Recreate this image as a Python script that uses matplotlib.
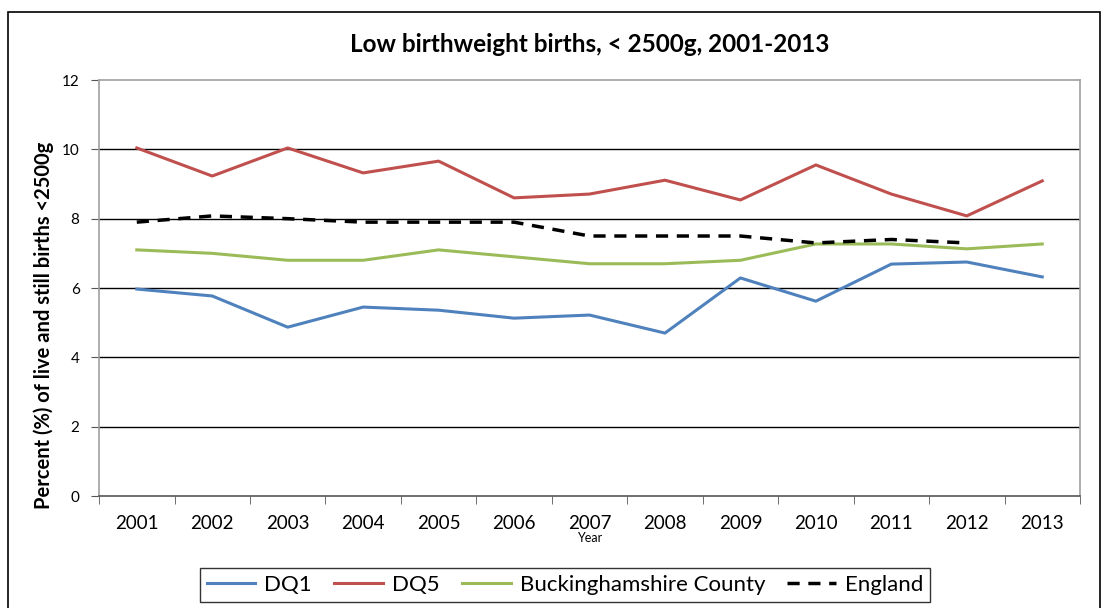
import matplotlib
matplotlib.use("Agg")
import matplotlib.pyplot as plt
from matplotlib.patches import Rectangle
import numpy as np

plt.rcParams['font.family'] = ['Lato', 'DejaVu Sans']

years = ['2001', '2002', '2003', '2004', '2005', '2006', '2007',
         '2008', '2009', '2010', '2011', '2012', '2013']
dq1 = [5.97, 5.77, 4.87, 5.45, 5.36, 5.13, 5.22, 4.70, 6.29, 5.62, 6.69, 6.75, 6.32]
dq5 = [10.04, 9.23, 10.04, 9.32, 9.66, 8.60, 8.71, 9.11, 8.54, 9.55, 8.71, 8.08, 9.09]
bucks = [7.10, 7.00, 6.80, 6.80, 7.10, 6.90, 6.70, 6.70, 6.80, 7.27, 7.27, 7.13, 7.27]
england = [7.90, 8.08, 8.00, 7.90, 7.90, 7.90, 7.50, 7.50, 7.50, 7.30, 7.40, 7.30, np.nan]

x = np.arange(len(years))

fig = plt.figure(figsize=(11.08, 6.08), dpi=100)
ax = fig.add_axes([0.0894, 0.1842, 0.8853, 0.6842])

# outer chart border
fig.patches.append(Rectangle((8 / 1108, -0.05), 1092 / 1108, 1.05 - 12 / 608,
                             transform=fig.transFigure, fill=False,
                             edgecolor='black', linewidth=1.2))

ax.plot(x, dq1, color='#4F81BD', lw=2.2, label='DQ1')
ax.plot(x, dq5, color='#C0504D', lw=2.2, label='DQ5')
ax.plot(x, bucks, color='#9BBB59', lw=2.2, label='Buckinghamshire County')
ax.plot(x, england, color='black', lw=2.5, ls=(0, (3.5, 2.5)), label='England')

ax.set_xlim(-0.5, len(years) - 0.5)
ax.set_ylim(0, 12)
ax.set_yticks(range(0, 13, 2))
ax.set_xticks(x)
ax.set_xticklabels(years, fontsize=13.5)
ax.set_xticks(np.arange(-0.5, len(years), 1), minor=True)
ax.tick_params(axis='x', which='major', length=0, pad=14)
ax.tick_params(axis='x', which='minor', length=6, color='#555555')
ax.tick_params(axis='y', labelsize=11, length=6, color='#555555', pad=8)

for v in range(2, 12, 2):
    ax.axhline(v, color='black', lw=1.0, zorder=0)

for s in ax.spines.values():
    s.set_color('#a0a0a0')
    s.set_linewidth(1.2)
ax.spines['bottom'].set_color('#555555')

ax.set_title('Low birthweight births, < 2500g, 2001-2013', fontsize=17.5,
             fontweight='bold', pad=20)
ax.set_ylabel('Percent (%) of live and still births <2500g', fontsize=14.5,
              fontweight='bold')
ax.yaxis.set_label_coords(-0.046, 0.41)
ax.set_xlabel('Year', fontsize=9, labelpad=0)

leg = ax.legend(loc='center', bbox_to_anchor=(565 / 1108, 23 / 608),
                bbox_transform=fig.transFigure, ncol=4, fontsize=16,
                frameon=True, fancybox=False, edgecolor='black',
                handlelength=2.2, handletextpad=0.4, columnspacing=1.0,
                borderpad=0.3)
leg.get_frame().set_linewidth(1.0)

fig.savefig('out.png', dpi=100)
